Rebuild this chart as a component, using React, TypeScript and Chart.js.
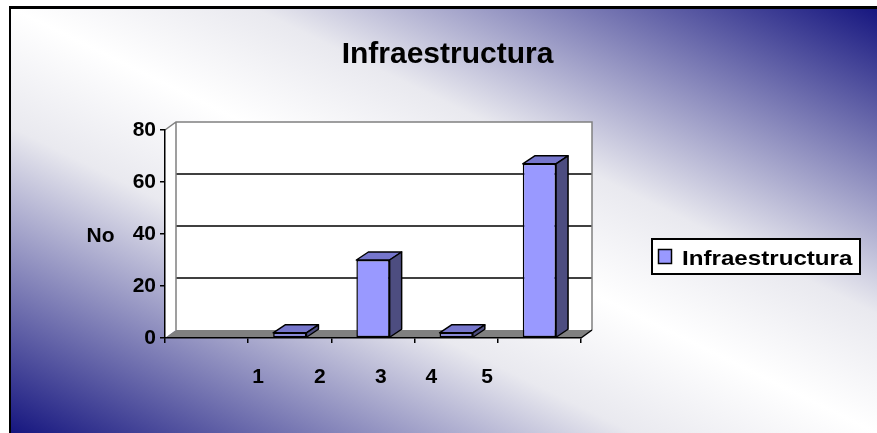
import React, { useEffect, useRef } from "react";
import { Chart, registerables } from "chart.js";

Chart.register(...registerables);

// ---- data ----
const categories = ["1", "2", "3", "4", "5"];
const values = [0, 2, 30, 2, 67];
const seriesLabel = "Infraestructura";
const chartTitle = "Infraestructura";
const yAxisTitle = "No";
const yMin = 0;
const yMax = 80;
const yStep = 20;

// ---- layout / style constants ----
// positions (in category-index units) where the original 3-D chart put its category labels
const xLabelAnchors = [0.275, 1.2, 2.117, 2.875, 3.715];
const FONT = "'Liberation Sans', Arial, Helvetica, sans-serif";
const BAR_FRONT = "#9999FF";
const BAR_TOP = "#7676CC";
const BAR_SIDE = "#4D4D80";
const NAVY = "#16167f";
const WALL_DX = 11;
const WALL_DY = -8;
const BAR_DX = 12;
const BAR_DY = -8;

const chart3dPlugin = {
  id: "chart3d",
  beforeDraw(chart: any) {
    const ctx = chart.ctx as CanvasRenderingContext2D;
    const W = chart.width;
    const H = chart.height;
    ctx.save();
    ctx.fillStyle = "#ffffff";
    ctx.fillRect(0, 0, W, H);
    // background gradient (diagonal: navy bottom-left & top-right, white along the other diagonal)
    const x0 = 11, y0 = 8, gw = W - x0, gh = H - y0;
    const cx = x0 + gw / 2, cy = y0 + gh / 2;
    const k = (gw * gh) / (gw * gw + gh * gh);
    const g = ctx.createLinearGradient(cx - k * gh, cy + k * gw, cx + k * gh, cy - k * gw);
    g.addColorStop(0, NAVY);
    g.addColorStop(0.36, "#e9e9ef");
    g.addColorStop(0.5, "#ffffff");
    g.addColorStop(0.64, "#e9e9ef");
    g.addColorStop(1, NAVY);
    ctx.fillStyle = g;
    ctx.fillRect(9, 6, W - 9, H - 6);
    ctx.fillStyle = "#000";
    ctx.fillRect(9, 6, W - 9, 3);
    ctx.fillRect(9, 6, 2, H - 6);

    // 3-D walls and floor
    const xs = chart.scales.x;
    const ys = chart.scales.y;
    const L = xs.left, R = xs.right;
    const T = ys.getPixelForValue(yMax), B = ys.getPixelForValue(yMin);
    ctx.fillStyle = "#ffffff";
    ctx.fillRect(L + WALL_DX, T + WALL_DY, R - L, B - T);
    ctx.beginPath();
    ctx.moveTo(L, B); ctx.lineTo(L, T); ctx.lineTo(L + WALL_DX, T + WALL_DY); ctx.lineTo(L + WALL_DX, B + WALL_DY);
    ctx.closePath(); ctx.fill();
    // gridlines on back wall
    ctx.strokeStyle = "#000"; ctx.lineWidth = 1.5;
    for (let v = yMin + yStep; v < yMax; v += yStep) {
      const py = ys.getPixelForValue(v) + WALL_DY;
      ctx.beginPath(); ctx.moveTo(L + WALL_DX, py); ctx.lineTo(R + WALL_DX, py); ctx.stroke();
    }
    // floor
    ctx.fillStyle = "#808080";
    ctx.beginPath();
    ctx.moveTo(L, B); ctx.lineTo(R, B); ctx.lineTo(R + WALL_DX, B + WALL_DY); ctx.lineTo(L + WALL_DX, B + WALL_DY);
    ctx.closePath(); ctx.fill();
    // wall outlines
    ctx.strokeStyle = "#808080"; ctx.lineWidth = 1.5;
    ctx.beginPath();
    ctx.moveTo(L, T); ctx.lineTo(L + WALL_DX, T + WALL_DY); ctx.lineTo(R + WALL_DX, T + WALL_DY); ctx.lineTo(R + WALL_DX, B + WALL_DY);
    ctx.moveTo(L + WALL_DX, T + WALL_DY); ctx.lineTo(L + WALL_DX, B + WALL_DY);
    ctx.stroke();
    ctx.strokeStyle = "#000";
    ctx.beginPath(); ctx.moveTo(R, B); ctx.lineTo(R + WALL_DX, B + WALL_DY); ctx.stroke();

    // title
    ctx.fillStyle = "#000";
    ctx.font = `bold 30px ${FONT}`;
    ctx.textAlign = "center"; ctx.textBaseline = "alphabetic";
    ctx.fillText(chartTitle, 447.5, 63);
    // y-axis title (horizontal)
    ctx.font = `bold 21px ${FONT}`;
    ctx.fillText(yAxisTitle, 100.5, 241.5);

    // legend
    const ds = chart.data.datasets[0];
    ctx.fillStyle = "#ffffff";
    ctx.fillRect(651, 238, 210, 37);
    ctx.strokeStyle = "#000"; ctx.lineWidth = 2;
    ctx.strokeRect(652, 239, 208, 35);
    ctx.fillStyle = ds.backgroundColor;
    ctx.fillRect(658, 249, 14, 15);
    ctx.lineWidth = 1.5;
    ctx.strokeRect(658.5, 249.5, 13, 14);
    ctx.fillStyle = "#000";
    ctx.textAlign = "left";
    ctx.translate(682, 265);
    ctx.scale(1.15, 1);
    ctx.fillText(ds.label, 0, 0);
    ctx.restore();
  },
  afterDatasetsDraw(chart: any) {
    const ctx = chart.ctx as CanvasRenderingContext2D;
    const meta = chart.getDatasetMeta(0);
    ctx.save();
    ctx.strokeStyle = "#000";
    ctx.lineWidth = 1.5;
    ctx.lineJoin = "round";
    meta.data.forEach((bar: any) => {
      const { x, y, base, width } = bar.getProps(["x", "y", "base", "width"], true);
      const l = x - width / 2, r = x + width / 2;
      const top = Math.min(y, base), bottom = Math.max(y, base);
      if (bottom - top < 0.5) return;
      // top face
      ctx.fillStyle = BAR_TOP;
      ctx.beginPath();
      ctx.moveTo(l, top); ctx.lineTo(r, top); ctx.lineTo(r + BAR_DX, top + BAR_DY); ctx.lineTo(l + BAR_DX, top + BAR_DY);
      ctx.closePath(); ctx.fill(); ctx.stroke();
      // side face
      ctx.fillStyle = BAR_SIDE;
      ctx.beginPath();
      ctx.moveTo(r, top); ctx.lineTo(r + BAR_DX, top + BAR_DY); ctx.lineTo(r + BAR_DX, bottom + BAR_DY); ctx.lineTo(r, bottom);
      ctx.closePath(); ctx.fill(); ctx.stroke();
    });
    ctx.restore();
  },
};

export default function App() {
  const ref = useRef<HTMLCanvasElement | null>(null);

  useEffect(() => {
    if (!ref.current) return;
    const chart = new Chart(ref.current, {
      type: "bar",
      data: {
        labels: categories,
        datasets: [
          {
            label: seriesLabel,
            data: values,
            backgroundColor: BAR_FRONT,
            borderColor: "#000",
            borderWidth: 1.5,
            borderSkipped: false,
            categoryPercentage: 1,
            barPercentage: 0.4,
          },
        ],
      },
      options: {
        responsive: false,
        animation: false,
        devicePixelRatio: 1,
        layout: { padding: { left: 0, top: 130, right: 296, bottom: 30 } },
        plugins: {
          legend: { display: false },
          title: { display: false },
          tooltip: { enabled: false },
        },
        scales: {
          x: {
            type: "category",
            position: "bottom",
            weight: 0,
            offset: true,
            grid: { offset: true, drawOnChartArea: false, drawTicks: true, tickLength: 5, color: "#000", lineWidth: 1.5 },
            border: { display: true, color: "#000", width: 1.5 },
            ticks: { display: false },
            afterFit: (s: any) => { s.height = 5; },
          },
          x2: {
            type: "linear",
            position: "bottom",
            weight: 1,
            min: -0.5,
            max: 4.5,
            grid: { display: false, drawTicks: false },
            border: { display: false },
            afterBuildTicks: (s: any) => { s.ticks = xLabelAnchors.map((v) => ({ value: v })); },
            ticks: {
              autoSkip: false,
              maxRotation: 0,
              minRotation: 0,
              padding: 22,
              color: "#000",
              font: { family: FONT, size: 21, weight: "bold" },
              callback: (_v: any, i: number) => categories[i],
            },
            afterFit: (s: any) => { s.height = 60; },
          },
          y: {
            min: yMin,
            max: yMax,
            ticks: { stepSize: yStep, padding: 4, color: "#000", font: { family: FONT, size: 21, weight: "bold" } },
            grid: { drawOnChartArea: false, drawTicks: true, tickLength: 5, color: "#000", lineWidth: 1.5 },
            border: { display: true, color: "#000", width: 1.5 },
            afterFit: (s: any) => { s.width = 165; },
          },
        },
      },
      plugins: [chart3dPlugin],
    } as any);
    return () => chart.destroy();
  }, []);

  return (
    <div style={{ position: "fixed", left: 0, top: 0, width: 877, height: 433 }}>
      <canvas ref={ref} width={877} height={433} style={{ width: 877, height: 433, display: "block" }} />
    </div>
  );
}
